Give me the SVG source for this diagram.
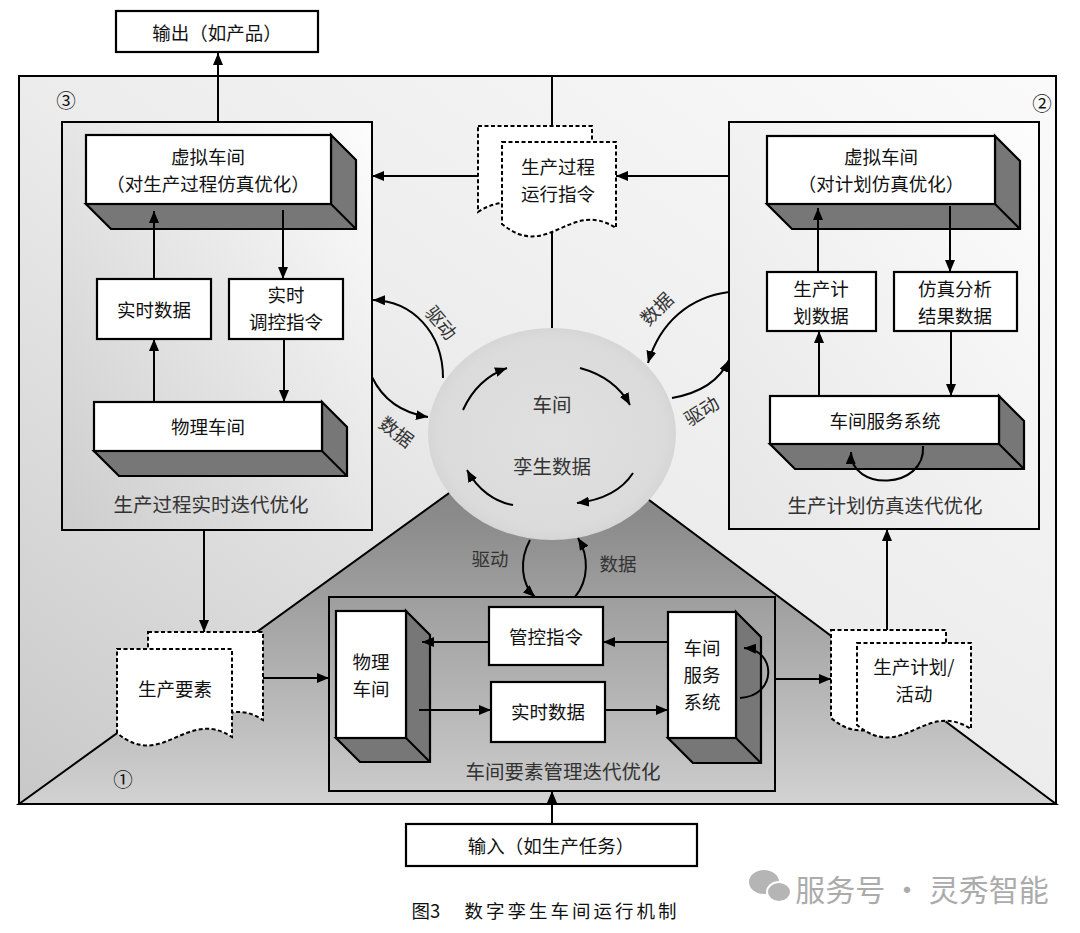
<svg xmlns="http://www.w3.org/2000/svg" width="1080" height="933" viewBox="0 0 1080 933">
<defs>
<marker id="ah" viewBox="0 0 12 10" refX="12" refY="5" markerWidth="12" markerHeight="10" markerUnits="userSpaceOnUse" orient="auto"><path d="M0,0 L12,5 L0,10 Z" fill="#000"/></marker>
<linearGradient id="bgGrad" x1="0" y1="1" x2="1" y2="0"><stop offset="0" stop-color="#c8c8c8"/><stop offset="0.5" stop-color="#ececec"/><stop offset="1" stop-color="#fafafa"/></linearGradient>
<linearGradient id="lpGrad" x1="0" y1="1" x2="1" y2="0"><stop offset="0" stop-color="#cdcdcd"/><stop offset="1" stop-color="#fdfdfd"/></linearGradient>
<linearGradient id="rpGrad" x1="0" y1="1" x2="1" y2="0"><stop offset="0" stop-color="#e6e6e6"/><stop offset="1" stop-color="#fdfdfd"/></linearGradient>
<linearGradient id="triGrad" gradientUnits="userSpaceOnUse" x1="0" y1="423" x2="0" y2="804"><stop offset="0" stop-color="#7c7c7c"/><stop offset="0.25" stop-color="#8b8b8b"/><stop offset="1" stop-color="#d2d2d2"/></linearGradient>
<linearGradient id="inGrad" gradientUnits="userSpaceOnUse" x1="0" y1="597" x2="0" y2="791"><stop offset="0" stop-color="#9e9e9e"/><stop offset="1" stop-color="#cacaca"/></linearGradient>
<radialGradient id="cirGrad" cx="0.5" cy="0.5" r="0.5"><stop offset="0" stop-color="#e0e0e0"/><stop offset="0.9" stop-color="#dbdbdb"/><stop offset="1" stop-color="#d6d6d6"/></radialGradient>
<style>
.t{font-family:"Noto Sans CJK SC","Noto Sans CJK JP",sans-serif;font-size:18.5px;fill:#111;text-anchor:middle;dominant-baseline:central}
.g{fill:#333}
.big{font-size:18.5px}
.lab{font-size:19.5px}
.box{fill:#fff;stroke:#000;stroke-width:2.2}
.face{fill:#777;stroke:#000;stroke-width:2.2;stroke-linejoin:miter}
.edge{stroke:#000;stroke-width:2;fill:none}
.ln{stroke:#000;stroke-width:2;fill:none}
.ar{stroke:#000;stroke-width:2;fill:none;marker-end:url(#ah)}
.doc{fill:#fff;stroke:#000;stroke-width:2;stroke-dasharray:4 2.5}
</style>
</defs>

<rect x="0" y="0" width="1080" height="933" fill="#fff"/>

<g id="background">
<rect x="19" y="76" width="1037" height="728" fill="url(#bgGrad)"/>
<polygon points="19,804 546,423 1056,804" fill="url(#triGrad)" stroke="#000" stroke-width="2"/>
<line class="ln" x1="552" y1="76" x2="552" y2="332"/>
<ellipse cx="552" cy="434" rx="124" ry="106" fill="url(#cirGrad)"/>
<rect x="19" y="76" width="1037" height="728" fill="none" stroke="#000" stroke-width="2"/>
<text class="t lab" x="66" y="99">③</text>
<text class="t lab" x="1042" y="102">②</text>
<text class="t lab" x="123" y="778">①</text>
</g>

<g id="panel-left">
<rect x="62" y="122" width="310" height="408" fill="url(#lpGrad)" stroke="#000" stroke-width="2"/>
<text class="t lab g" x="211" y="503">生产过程实时迭代优化</text>
</g>

<g id="panel-right">
<rect x="729" y="122" width="310" height="407" fill="url(#rpGrad)" stroke="#000" stroke-width="2"/>
<text class="t lab g" x="885" y="504">生产计划仿真迭代优化</text>
</g>

<g id="panel-bottom">
<rect x="329" y="597" width="446" height="194" fill="url(#inGrad)" stroke="#000" stroke-width="2"/>
<text class="t lab g" x="563" y="770">车间要素管理迭代优化</text>
</g>

<g id="twin-data">
<text class="t lab g" x="552" y="403">车间</text>
<text class="t lab g" x="552" y="465">孪生数据</text>
</g>

<g id="output">
<rect class="box" x="116" y="11" width="202" height="41"/>
<text class="t" x="217" y="32">输出（如产品）</text>
</g>

<g id="input">
<rect class="box" x="406" y="824" width="291" height="42"/>
<text class="t" x="551" y="845">输入（如生产任务）</text>
</g>

<g id="vw-left">
<polygon class="face" points="331,135 356,160 356,229 111,229 86,204 331,204"/>
<line class="edge" x1="331" y1="204" x2="356" y2="229"/>
<rect class="box" x="86" y="135" width="245" height="69"/>
<text class="t big" x="208" y="156">虚拟车间</text>
<text class="t big" x="208" y="183">（对生产过程仿真优化）</text>
</g>

<g id="rt-data-left">
<rect class="box" x="97" y="279" width="114" height="60"/>
<text class="t big" x="154" y="309">实时数据</text>
</g>

<g id="rt-ctrl-left">
<rect class="box" x="229" y="279" width="114" height="60"/>
<text class="t big" x="286" y="294">实时</text>
<text class="t big" x="286" y="321">调控指令</text>
</g>

<g id="pw-left">
<polygon class="face" points="322,402 347,427 347,476 119,476 94,451 322,451"/>
<line class="edge" x1="322" y1="451" x2="347" y2="476"/>
<rect class="box" x="94" y="402" width="228" height="49"/>
<text class="t big" x="208" y="426">物理车间</text>
</g>

<g id="vw-right">
<polygon class="face" points="995,136 1020,161 1020,229 792,229 767,204 995,204"/>
<line class="edge" x1="995" y1="204" x2="1020" y2="229"/>
<rect class="box" x="767" y="136" width="228" height="68"/>
<text class="t big" x="881" y="156">虚拟车间</text>
<text class="t big" x="881" y="183">（对计划仿真优化）</text>
</g>

<g id="plan-data">
<rect class="box" x="767" y="272" width="109" height="59"/>
<text class="t big" x="821" y="288">生产计</text>
<text class="t big" x="821" y="315">划数据</text>
</g>

<g id="sim-result">
<rect class="box" x="894" y="272" width="123" height="59"/>
<text class="t big" x="955" y="288">仿真分析</text>
<text class="t big" x="955" y="315">结果数据</text>
</g>

<g id="service-right">
<polygon class="face" points="999,396 1024,421 1024,469 795,469 770,444 999,444"/>
<line class="edge" x1="999" y1="444" x2="1024" y2="469"/>
<rect class="box" x="770" y="396" width="229" height="48"/>
<text class="t big" x="885" y="420">车间服务系统</text>
</g>

<g id="pw-inner">
<polygon class="face" points="406,611 430,635 430,762 360,762 336,738 406,738"/>
<line class="edge" x1="406" y1="738" x2="430" y2="762"/>
<rect class="box" x="336" y="611" width="70" height="127"/>
<text class="t big" x="371" y="661">物理</text>
<text class="t big" x="371" y="688">车间</text>
</g>

<g id="ctrl-inner">
<rect class="box" x="489" y="607" width="114" height="58"/>
<text class="t big" x="546" y="636">管控指令</text>
</g>

<g id="rt-data-inner">
<rect class="box" x="491" y="682" width="114" height="60"/>
<text class="t big" x="548" y="711">实时数据</text>
</g>

<g id="service-inner">
<polygon class="face" points="736,612 761,637 761,763 693,763 668,738 736,738"/>
<line class="edge" x1="736" y1="738" x2="761" y2="763"/>
<rect class="box" x="668" y="612" width="68" height="126"/>
<text class="t big" x="702" y="647">车间</text>
<text class="t big" x="702" y="674">服务</text>
<text class="t big" x="702" y="701">系统</text>
</g>

<g id="doc-run-cmd">
<path class="doc" d="M478,126 H592 V208 C546,238 524,182 478,212 Z"/>
<path class="doc" d="M502,142 H616 V228 C570,198 548,262 502,224 Z"/>
<text class="t" x="558" y="166">生产过程</text>
<text class="t" x="558" y="193">运行指令</text>
</g>

<g id="doc-elements">
<path class="doc" d="M148,632 H263 V720 C217,690 194,756 148,718 Z"/>
<path class="doc" d="M117,649 H232 V737 C186,707 163,771 117,733 Z"/>
<text class="t big" x="175" y="688">生产要素</text>
</g>

<g id="doc-plan">
<path class="doc" d="M831,630 H946 V722 C900,692 877,756 831,718 Z"/>
<path class="doc" d="M857,643 H971 V729 C925,699 903,763 857,725 Z"/>
<text class="t big" x="914" y="666">生产计划/</text>
<text class="t big" x="914" y="693">活动</text>
</g>

<g id="watermark">
<ellipse cx="764" cy="882" rx="15" ry="12" fill="#b5b5b5"/>
<ellipse cx="779" cy="892" rx="12" ry="10" fill="#b5b5b5" stroke="#fff" stroke-width="2"/>
<text x="922" y="888" style="font-family:'Noto Sans CJK SC',sans-serif;font-size:30px;fill:#ababab;text-anchor:middle;dominant-baseline:central">服务号 · 灵秀智能</text>
</g>

<g id="caption">
<text class="t" x="426" y="910">图3</text>
<text class="t" x="572" y="910" style="letter-spacing:3px">数字孪生车间运行机制</text>
</g>

<g id="connectors">
<path class="ar" d="M218,122 V53"/>
<path class="ar" d="M729,176 H616"/>
<path class="ar" d="M478,176 H372"/>
<path class="ar" d="M154,279 V211"/>
<path class="ar" d="M283,210 V279"/>
<path class="ar" d="M154,402 V339"/>
<path class="ar" d="M284,339 V402"/>
<path class="ar" d="M818,272 V208"/>
<path class="ar" d="M950,206 V272"/>
<path class="ar" d="M819,396 V331"/>
<path class="ar" d="M951,331 V396"/>
<path class="ar" d="M923,446 C926,490 850,492 851,452"/>
<path class="ar" d="M204,530 V632"/>
<path class="ar" d="M263,678 H329"/>
<path class="ar" d="M775,679 H831"/>
<path class="ar" d="M887,630 V529"/>
<path class="ar" d="M552,824 V791"/>
<path class="ar" d="M489,642 H422"/>
<path class="ar" d="M419,710 H491"/>
<path class="ar" d="M668,642 H603"/>
<path class="ar" d="M605,710 H668"/>
<path class="ar" d="M740,698 C777,696 777,650 744,648"/>
<path class="ar" d="M443,378 C443,332 412,301 373,300"/>
<path class="ar" d="M372,377 C383,400 403,413 428,417"/>
<path class="ar" d="M729,292 C690,297 660,322 648,363"/>
<path class="ar" d="M672,398 C700,393 720,380 729,360"/>
<path class="ar" d="M530,540 C519,560 521,584 535,597"/>
<path class="ar" d="M575,597 C589,580 589,556 578,538"/>
<path class="ar" d="M463,410 C472,390 485,376 507,368"/>
<path class="ar" d="M580,368 C602,374 620,387 630,405"/>
<path class="ar" d="M633,473 C622,490 603,500 577,503"/>
<path class="ar" d="M513,505 C495,502 478,490 467,470"/>
<text class="t g" x="442" y="322" transform="rotate(50 442 322)">驱动</text>
<text class="t g" x="397" y="431" transform="rotate(37 397 431)">数据</text>
<text class="t g" x="656" y="308" transform="rotate(-45 656 308)">数据</text>
<text class="t g" x="701" y="410" transform="rotate(-33 701 410)">驱动</text>
<text class="t g" x="490" y="558">驱动</text>
<text class="t g" x="618" y="563">数据</text>
</g>
</svg>
